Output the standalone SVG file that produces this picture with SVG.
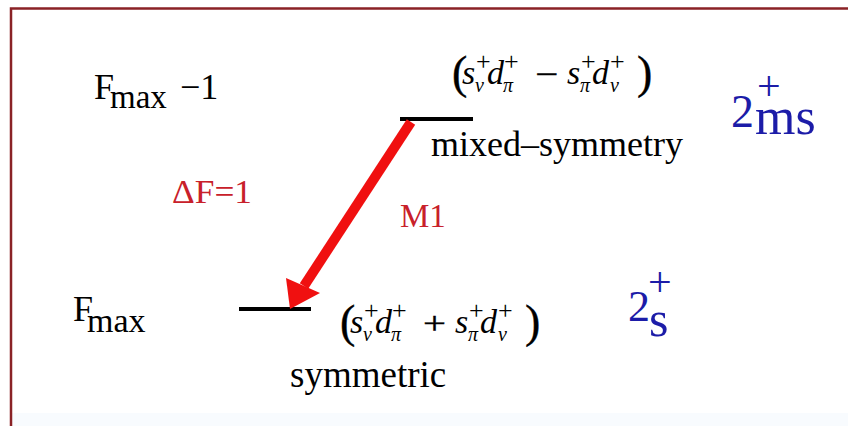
<svg xmlns="http://www.w3.org/2000/svg" width="848" height="426" viewBox="0 0 848 426">
<style>
text{font-family:"Liberation Serif","Times New Roman",serif;fill:#000}
.f text{stroke:#000;stroke-width:0.4}
.it{font-style:italic;font-size:34px}
.sp{font-size:26px}
.sb{font-style:italic;font-size:20px}
.pr{font-size:46px}
.op{font-size:32px}
.red{fill:#c8202a;font-size:33px}
.blue{fill:#1c1ca8}
.lvl{stroke:#000;stroke-width:4}
</style>
<defs>
<g id="pair1">
<text class="it" x="10" y="0">s</text>
<text class="sp" x="24" y="-14">+</text>
<text class="sb" x="23" y="8">ν</text>
<text class="it" x="35" y="0">d</text>
<text class="sp" x="52" y="-14">+</text>
<text class="sb" x="51" y="8">π</text>
</g>
<g id="pair2">
<text class="it" x="115" y="0">s</text>
<text class="sp" x="129" y="-14">+</text>
<text class="sb" x="128" y="8">π</text>
<text class="it" x="140" y="0">d</text>
<text class="sp" x="158" y="-14">+</text>
<text class="sb" x="158" y="8">ν</text>
</g>
</defs>
<rect width="848" height="426" fill="#fff"/>
<rect x="12" y="413" width="836" height="13" fill="#f8fbfe"/>
<path d="M11,427 V8.5 H849" fill="none" stroke="#8a2226" stroke-width="2.5"/>

<g id="state-mixed">
<line class="lvl" x1="400" y1="119" x2="473" y2="119"/>
<g class="f" transform="translate(452,84)">
<text class="pr" x="0" y="4">(</text>
<use href="#pair1"/>
<text class="op" x="83" y="1" textLength="23" lengthAdjust="spacingAndGlyphs">−</text>
<use href="#pair2"/>
<text class="pr" x="185" y="4">)</text>
</g>
<text x="431" y="156" font-size="36">mixed–symmetry</text>
<text class="blue" x="731" y="127" font-size="46">2</text>
<text class="blue" x="757" y="100" font-size="42">+</text>
<text class="blue" x="755" y="134" font-size="52">ms</text>
</g>

<g id="state-symmetric">
<line class="lvl" x1="239" y1="309" x2="311" y2="309"/>
<g class="f" transform="translate(340,333)">
<text class="pr" x="0" y="4">(</text>
<use href="#pair1"/>
<text class="op" x="83" y="1" textLength="23" lengthAdjust="spacingAndGlyphs">+</text>
<use href="#pair2"/>
<text class="pr" x="185" y="4">)</text>
</g>
<text x="290" y="387" font-size="37">symmetric</text>
<text class="blue" x="628" y="321" font-size="44">2</text>
<text class="blue" x="648" y="296" font-size="42">+</text>
<text class="blue" x="649" y="336" font-size="50">s</text>
</g>

<g id="label-fmax1">
<text x="94" y="99" font-size="36">F</text>
<text x="110" y="108" font-size="33">max</text>
<text x="180" y="99" font-size="36">−1</text>
</g>

<g id="label-fmax">
<text x="73" y="321" font-size="36">F</text>
<text x="87" y="332" font-size="34">max</text>
</g>

<g id="label-dF">
<text class="red" x="172" y="203" textLength="80" lengthAdjust="spacingAndGlyphs">ΔF=1</text>
</g>

<g id="connectors">
<line x1="411" y1="122" x2="304" y2="286" stroke="#f01010" stroke-width="10"/>
<polygon points="290,309 286,278 320,293" fill="#f01010"/>
<text class="red" x="400" y="227">M1</text>
</g>
</svg>
